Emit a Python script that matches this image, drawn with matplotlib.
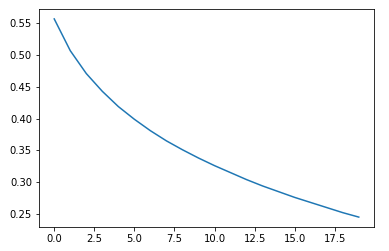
import numpy as np
import matplotlib
matplotlib.use("Agg")
import matplotlib.pyplot as plt

steps = list(range(20))
values = [0.557, 0.507, 0.471, 0.443, 0.419, 0.399, 0.381, 0.365, 0.351, 0.338,
          0.326, 0.315, 0.304, 0.294, 0.285, 0.276, 0.268, 0.260, 0.252, 0.245]

fig = plt.figure(figsize=(389 / 72, 251 / 72), dpi=72)
ax = fig.add_axes([39 / 389, 24 / 251, 335 / 389, 218 / 251])
ax.plot(steps, values)

fig.savefig("out.png", dpi=72)
